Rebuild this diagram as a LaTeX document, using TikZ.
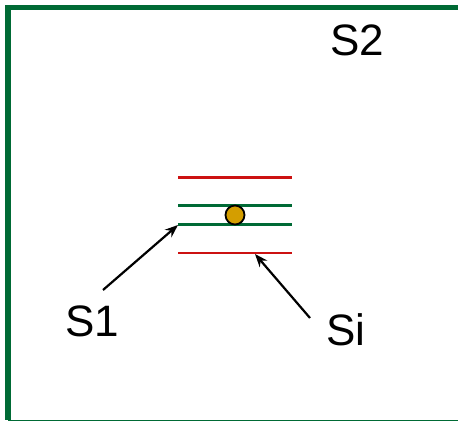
\documentclass[tikz,border=0pt]{standalone}
\usepackage{fontspec}
\setmainfont{Liberation Sans}
\usetikzlibrary{arrows.meta}
\definecolor{frameg}{HTML}{006A35}
\definecolor{lred}{HTML}{CC1111}
\definecolor{gold}{HTML}{D49E00}
\begin{document}
\begin{tikzpicture}[x=1pt,y=-1pt,
  lbl/.style={inner sep=0pt,font=\fontsize{44}{50}\selectfont},
  redline/.style={draw=lred,line width=2.8pt},
  greenline/.style={draw=frameg,line width=3.6pt},
  ptr/.style={draw=black,line width=2.2pt,-{Stealth[length=13pt,width=10pt]}}]
\useasboundingbox (0,0) rectangle (458,422);
\fill[white] (0,0) rectangle (458,422);
% frame
\draw[frameg,line width=5.5pt] (458,7.5) -- (8,7.5) -- (8,420);
\draw[frameg,line width=1.4pt] (8,420.3) -- (458,420.3);
% lines
\coordinate (r1a) at (178,177.5); \coordinate (r1b) at (292,177.5);
\coordinate (g1a) at (178,205.5); \coordinate (g1b) at (292,205.5);
\coordinate (g2a) at (178,224.5); \coordinate (g2b) at (292,224.5);
\coordinate (r2a) at (178,253);   \coordinate (r2b) at (292,253);
\draw[redline] (r1a) -- (r1b);
\draw[greenline] (g1a) -- (g1b);
\draw[greenline] (g2a) -- (g2b);
\draw[redline] (r2a) -- (r2b);
\node[circle,draw=black,line width=1.8pt,fill=gold,minimum size=19pt,inner sep=0pt] (dot) at (235,215) {};
% labels
\node[lbl] (s1) at (92.5,321) {S1};
\node[lbl] (si) at (346,330) {Si};
\node[lbl] (s2) at (357,40) {S2};
\coordinate (s1t) at (103,290);
\coordinate (sit) at (310,318);
\coordinate (s1h) at (178,225);
\coordinate (sih) at (255,254);
\draw[ptr] (s1t) -- (s1h);
\draw[ptr] (sit) -- (sih);
\end{tikzpicture}
\end{document}
